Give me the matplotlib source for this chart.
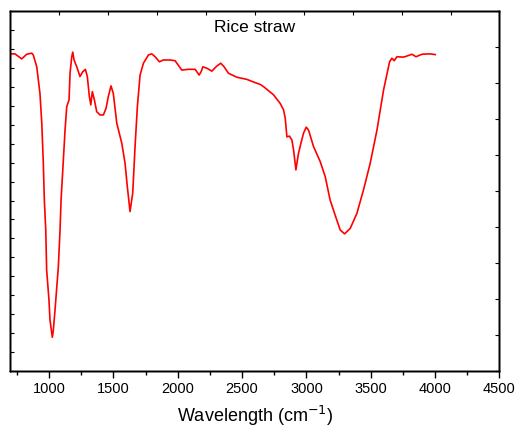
import numpy as np
import matplotlib
matplotlib.use("Agg")
import matplotlib.pyplot as plt

plt.rcParams['font.family'] = ['Liberation Sans', 'DejaVu Sans']

# FTIR spectrum of rice straw
wavenumber = [700, 735, 787, 826, 865, 877, 904, 929, 943, 955, 963, 974, 981, 999,
              1007, 1025, 1033, 1046, 1072, 1085, 1093, 1124, 1137, 1155, 1163, 1176,
              1184, 1194, 1215, 1240, 1261, 1282, 1297, 1313, 1324, 1336, 1352, 1370,
              1396, 1422, 1443, 1460, 1481, 1499, 1526, 1565, 1590, 1608, 1629, 1650,
              1668, 1686, 1707, 1733, 1772, 1798, 1824, 1857, 1888, 1940, 1979, 2031,
              2083, 2135, 2166, 2181, 2195, 2226, 2265, 2303, 2334, 2360, 2394, 2459,
              2537, 2601, 2640, 2666, 2744, 2796, 2822, 2835, 2848, 2868, 2887, 2900,
              2918, 2938, 2957, 2977, 2998, 3016, 3055, 3107, 3146, 3184, 3223, 3262,
              3296, 3340, 3392, 3443, 3495, 3548, 3599, 3646, 3664, 3682, 3703, 3755,
              3781, 3820, 3851, 3898, 3962, 4001]
transmittance = [88.2, 88.2, 86.8, 88.1, 88.4, 87.9, 84.6, 77.2, 69.0, 57.8, 47.5, 39.2,
                 28.0, 19.7, 14.1, 9.3, 11.3, 16.9, 29.0, 39.2, 47.5, 67.0, 73.5, 75.4,
                 82.9, 87.4, 88.7, 86.5, 84.6, 81.9, 83.2, 83.9, 81.9, 76.3, 74.0, 77.7,
                 75.4, 72.1, 71.2, 71.2, 73.1, 76.3, 79.3, 77.2, 68.9, 63.3, 57.8, 51.2,
                 44.3, 49.5, 62.4, 73.5, 82.3, 85.6, 87.9, 88.2, 87.4, 86.0, 86.5, 86.5,
                 86.3, 83.7, 83.9, 83.9, 82.3, 83.2, 84.6, 84.2, 83.4, 84.8, 85.6, 84.6,
                 82.8, 81.7, 81.1, 80.2, 79.7, 79.1, 76.8, 74.4, 72.6, 70.3, 65.1, 65.3,
                 64.2, 61.4, 55.9, 60.5, 63.3, 66.1, 67.8, 67.0, 62.4, 58.2, 54.0, 47.5,
                 43.3, 39.2, 38.1, 39.6, 43.8, 50.3, 57.7, 67.0, 78.1, 86.0, 87.0, 86.3,
                 87.4, 87.3, 87.6, 88.1, 87.4, 88.1, 88.2, 88.0]

fig = plt.figure(figsize=(5.17, 4.32), dpi=100)
ax = fig.add_axes([0.0203, 0.1419, 0.9458, 0.8315])
ax.plot(wavenumber, transmittance, color='red', lw=1.2)
ax.set_xlim(700, 4500)
ax.set_ylim(0, 100)

ax.set_xticks(np.arange(1000, 4501, 500))
ax.set_xticks(np.arange(750, 4300, 500), minor=True)
ax.tick_params(axis='x', which='major', direction='out', length=5, width=1, labelsize=10.5, pad=3)
ax.tick_params(axis='x', which='minor', direction='out', length=3, width=1)
ax.set_yticks(np.linspace(0, 100, 20))
ax.tick_params(axis='y', direction='in', length=3, width=0.8, labelleft=False)
ax.set_xlabel('Wavelength (cm$^{-1}$)', fontsize=13, labelpad=6)
ax.text(0.5, 0.955, 'Rice straw', transform=ax.transAxes, ha='center', va='center', fontsize=12.5)

# top and right axes carry their own unlabelled ticks
top = ax.twiny()
top.set_xlim(0, 10)
top.set_xticks(range(11))
top.tick_params(axis='x', direction='in', length=3, width=0.8, labeltop=False)
right = ax.twinx()
right.set_ylim(0, 10)
right.set_yticks(range(11))
right.tick_params(axis='y', direction='in', length=3, width=0.8, labelright=False)

for a in (ax, top, right):
    for s in a.spines.values():
        s.set_linewidth(1.0)

fig.savefig('out.png', dpi=100)
